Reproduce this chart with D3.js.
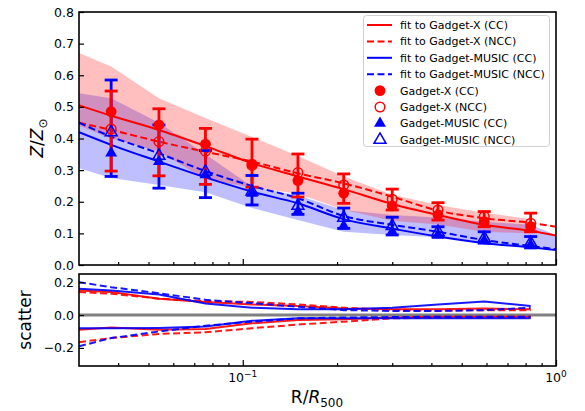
<!DOCTYPE html>
<html><head><meta charset="utf-8">
<script src="https://cdn.jsdelivr.net/npm/d3@7"></script>
<style>body{margin:0;background:#fff} text{font-family:"DejaVu Sans",sans-serif}</style>
</head><body><svg id="c" width="585" height="411"></svg>
<script>
// ---- data ----
const gridX = [0.03, 0.038, 0.054, 0.076, 0.107, 0.15, 0.21, 0.30, 0.42, 0.59, 0.83, 1.0];
const fitXCC   = [0.505, 0.472, 0.427, 0.376, 0.322, 0.280, 0.240, 0.193, 0.158, 0.127, 0.108, 0.093];
const fitXNCC  = [0.450, 0.427, 0.390, 0.358, 0.327, 0.290, 0.258, 0.216, 0.172, 0.148, 0.133, 0.121];
const fitMCC   = [0.420, 0.380, 0.327, 0.277, 0.232, 0.195, 0.145, 0.115, 0.090, 0.069, 0.056, 0.047];
const fitMNCC  = [0.450, 0.406, 0.353, 0.297, 0.250, 0.211, 0.155, 0.127, 0.105, 0.079, 0.060, 0.050];
const bandXHi  = [0.670, 0.628, 0.527, 0.465, 0.405, 0.345, 0.280, 0.222, 0.190, 0.165, 0.145];
const bandXLo  = [0.440, 0.400, 0.360, 0.270, 0.245, 0.225, 0.175, 0.140, 0.128, 0.105, 0.100];
const bandMHi  = [0.543, 0.527, 0.450, 0.350, 0.248, 0.220, 0.174, 0.158, 0.150, 0.137, 0.127, 0.095];
const bandMLo  = [0.306, 0.275, 0.253, 0.230, 0.180, 0.142, 0.105, 0.095, 0.088, 0.070, 0.057, 0.045];

const xPts     = [0.038, 0.054, 0.076, 0.107, 0.15, 0.21, 0.30, 0.42, 0.59, 0.83];
const xCC      = [0.485, 0.443, 0.382, 0.319, 0.267, 0.227, 0.187, 0.158, 0.137, 0.121];
const xCCErrLo = [0.297, 0.282, 0.255, 0.246, 0.215, 0.195, 0.174, 0.142, 0.121, 0.105];
const xCCErrHi = [0.550, 0.494, 0.432, 0.398, 0.351, 0.288, 0.240, 0.197, 0.169, 0.164];
const xNCC     = [0.430, 0.390, 0.360, 0.315, 0.292, 0.253, 0.208, 0.174, 0.153, 0.132];
const mCC      = [0.354, 0.327, 0.285, 0.227, 0.169, 0.123, 0.105, 0.095, 0.077, 0.063];
const mCCErrLo = [0.280, 0.243, 0.213, 0.190, 0.160, 0.116, 0.095, 0.088, 0.069, 0.054];
const mCCErrHi = [0.585, 0.443, 0.362, 0.283, 0.227, 0.180, 0.151, 0.121, 0.105, 0.090];
const mNCC     = [0.420, 0.345, 0.295, 0.232, 0.187, 0.149, 0.123, 0.105, 0.085, 0.070];

const scX = gridX.slice(0, 11);
const scXCCHi  = [0.150, 0.140, 0.100, 0.080, 0.065, 0.055, 0.040, 0.035, 0.035, 0.040, 0.035];
const scXNCCHi = [0.140, 0.130, 0.100, 0.085, 0.080, 0.065, 0.045, 0.030, 0.027, 0.030, 0.030];
const scMCCHi  = [0.160, 0.150, 0.125, 0.070, 0.045, 0.035, 0.035, 0.045, 0.065, 0.083, 0.055];
const scMNCCHi = [0.200, 0.170, 0.133, 0.093, 0.073, 0.050, 0.030, 0.025, 0.025, 0.030, 0.045];
const scXCCLo  = [-0.090, -0.075, -0.090, -0.085, -0.050, -0.030, -0.025, -0.015, -0.010, -0.010, -0.010];
const scXNCCLo = [-0.165, -0.140, -0.115, -0.105, -0.080, -0.058, -0.040, -0.020, -0.015, -0.015, -0.015];
const scMCCLo  = [-0.080, -0.080, -0.078, -0.070, -0.035, -0.020, -0.020, -0.020, -0.020, -0.020, -0.020];
const scMNCCLo = [-0.190, -0.140, -0.100, -0.065, -0.040, -0.020, -0.015, -0.012, -0.010, -0.010, -0.010];

const topTicks = [0.0, 0.1, 0.2, 0.3, 0.4, 0.5, 0.6, 0.7, 0.8];
const botTicks = [-0.2, 0.0, 0.2];
const legendLabels = ["fit to Gadget-X (CC)", "fit to Gadget-X (NCC)", "fit to Gadget-MUSIC (CC)", "fit to Gadget-MUSIC (NCC)",
  "Gadget-X (CC)", "Gadget-X (NCC)", "Gadget-MUSIC (CC)", "Gadget-MUSIC (NCC)"];

// ---- layout ----
const L = 79, R = 556;
const svg = d3.select("#c");
const x = d3.scaleLog().domain([0.03, 1]).range([L, R]);
const yT = d3.scaleLinear().domain([0, 0.8]).range([265, 12]);
const yB = d3.scaleLinear().domain([-0.31, 0.25]).range([366, 274]);
const RED = "#ff0000", BLUE = "#0000ff";

svg.append("clipPath").attr("id", "ct").append("rect").attr("x", L).attr("y", 12).attr("width", R - L).attr("height", 253);
svg.append("clipPath").attr("id", "cb").append("rect").attr("x", L).attr("y", 274).attr("width", R - L).attr("height", 92);
const gT = svg.append("g").attr("clip-path", "url(#ct)");
const gB = svg.append("g").attr("clip-path", "url(#cb)");

const zip = (xs, ys) => ys.map((v, i) => [xs[i], v]);
const zip2 = (xs, lo, hi) => lo.map((v, i) => [xs[i], v, hi[i]]);

// bands
const area = d3.area().x(d => x(d[0])).y0(d => yT(d[1])).y1(d => yT(d[2]));
gT.append("path").attr("d", area(zip2(gridX, bandMLo, bandMHi))).attr("fill", BLUE).attr("fill-opacity", 0.25);
gT.append("path").attr("d", area(zip2(gridX, bandXLo, bandXHi))).attr("fill", RED).attr("fill-opacity", 0.25);

// fit lines
const lineT = d3.line().x(d => x(d[0])).y(d => yT(d[1])).curve(d3.curveMonotoneX);
const fits = [[fitXCC, RED, null], [fitXNCC, RED, "7,3.5"], [fitMCC, BLUE, null], [fitMNCC, BLUE, "7,3.5"]];
fits.forEach(([v, c, dash]) => {
  gT.append("path").attr("d", lineT(zip(gridX, v))).attr("fill", "none").attr("stroke", c)
    .attr("stroke-width", 2).attr("stroke-dasharray", dash);
});

// error bars
const errs = [[mCCErrLo, mCCErrHi, BLUE], [xCCErrLo, xCCErrHi, RED]];
errs.forEach(([lo, hi, c]) => {
  gT.selectAll(null).data(xPts.map((px, i) => [px, lo[i], hi[i]])).join("line")
    .attr("x1", d => x(d[0])).attr("x2", d => x(d[0])).attr("y1", d => yT(d[1])).attr("y2", d => yT(d[2]))
    .attr("stroke", c).attr("stroke-width", 2.8);
});
errs.forEach(([lo, hi, c]) => {
  const caps = [];
  xPts.forEach((px, i) => { caps.push([px, lo[i]]); caps.push([px, hi[i]]); });
  gT.selectAll(null).data(caps).join("line")
    .attr("x1", d => x(d[0]) - 6.5).attr("x2", d => x(d[0]) + 6.5).attr("y1", d => yT(d[1])).attr("y2", d => yT(d[1]))
    .attr("stroke", c).attr("stroke-width", 2.8);
});

// markers
const tri = d3.symbol().type(d3.symbolTriangle).size(62);
gT.selectAll(null).data(zip(xPts, xCC)).join("circle")
  .attr("cx", d => x(d[0])).attr("cy", d => yT(d[1])).attr("r", 5.4).attr("fill", RED);
gT.selectAll(null).data(zip(xPts, xNCC)).join("circle")
  .attr("cx", d => x(d[0])).attr("cy", d => yT(d[1])).attr("r", 4.8).attr("fill", "none").attr("stroke", RED).attr("stroke-width", 1.5);
gT.selectAll(null).data(zip(xPts, mCC)).join("path").attr("d", tri)
  .attr("transform", d => `translate(${x(d[0])},${yT(d[1])})`).attr("fill", BLUE);
gT.selectAll(null).data(zip(xPts, mNCC)).join("path").attr("d", tri)
  .attr("transform", d => `translate(${x(d[0])},${yT(d[1])})`).attr("fill", "none").attr("stroke", BLUE).attr("stroke-width", 1.5);

// bottom panel
gB.append("line").attr("x1", L).attr("x2", R).attr("y1", yB(0)).attr("y2", yB(0)).attr("stroke", "#808080").attr("stroke-width", 3);
const lineB = d3.line().x(d => x(d[0])).y(d => yB(d[1]));
const scs = [[scXCCHi, RED, null], [scXCCLo, RED, null], [scXNCCHi, RED, "7,3.5"], [scXNCCLo, RED, "7,3.5"],
             [scMCCHi, BLUE, null], [scMCCLo, BLUE, null], [scMNCCHi, BLUE, "7,3.5"], [scMNCCLo, BLUE, "7,3.5"]];
scs.forEach(([v, c, dash]) => {
  gB.append("path").attr("d", lineB(zip(scX, v))).attr("fill", "none").attr("stroke", c)
    .attr("stroke-width", 2).attr("stroke-opacity", 0.9).attr("stroke-dasharray", dash);
});

// axes
const fmt = d3.format(".1f");
const axT = svg.append("g").attr("transform", `translate(${L},0)`)
  .call(d3.axisLeft(yT).tickValues(topTicks).tickFormat(fmt).tickSize(-5).tickPadding(5));
const axB = svg.append("g").attr("transform", `translate(${L},0)`)
  .call(d3.axisLeft(yB).tickValues(botTicks).tickFormat(d => fmt(d).replace("-", "\u2212")).tickSize(-5).tickPadding(5));
const minor = [0.04,0.05,0.06,0.07,0.08,0.09,0.2,0.3,0.4,0.5,0.6,0.7,0.8,0.9];
const major = [0.1, 1];
[265, 366].forEach(yy => {
  const gm = svg.append("g").attr("transform", `translate(0,${yy})`)
    .call(d3.axisBottom(x).tickValues(minor).tickSize(-3).tickFormat(""));
  const gM = svg.append("g").attr("transform", `translate(0,${yy})`)
    .call(d3.axisBottom(x).tickValues(major).tickSize(-6).tickFormat(""));
  [gm, gM].forEach(g => { g.select(".domain").remove(); g.selectAll("line").attr("stroke-width", 1.2); });
});
[axT, axB].forEach(g => {
  g.select(".domain").remove();
  g.selectAll("line").attr("stroke-width", 1.2);
  g.selectAll("text").attr("font-size", 12.5).attr("fill", "#000").style("font-family", "DejaVu Sans");
});
// x tick labels
const xl = svg.append("g");
[[0.1, "\u22121"], [1, "0"]].forEach(([v, e]) => {
  const t = xl.append("text").attr("x", x(v)).attr("y", 382).attr("text-anchor", "middle").attr("font-size", 12.5);
  t.append("tspan").text("10");
  t.append("tspan").attr("dy", -5).attr("font-size", 9).text(e);
});
// frames
svg.append("rect").attr("x", L).attr("y", 12).attr("width", R - L).attr("height", 253).attr("fill", "none").attr("stroke", "#000").attr("stroke-width", 1.6);
svg.append("rect").attr("x", L).attr("y", 274).attr("width", R - L).attr("height", 92).attr("fill", "none").attr("stroke", "#000").attr("stroke-width", 1.6);

// axis labels
const yl = svg.append("text").attr("transform", "translate(43,138) rotate(-90)").attr("text-anchor", "middle").attr("font-size", 17);
yl.append("tspan").attr("font-style", "italic").text("Z");
yl.append("tspan").text("/");
yl.append("tspan").attr("font-style", "italic").text("Z");
yl.append("tspan").attr("dy", 4).attr("font-size", 12).text("\u2299");
svg.append("text").attr("transform", "translate(31,320) rotate(-90)").attr("text-anchor", "middle").attr("font-size", 17).text("scatter");
const xlab = svg.append("text").attr("x", 317).attr("y", 403).attr("text-anchor", "middle").attr("font-size", 17);
xlab.append("tspan").text("R/");
xlab.append("tspan").attr("font-style", "italic").text("R");
xlab.append("tspan").attr("dy", 4).attr("font-size", 12).text("500");

// legend
const lg = svg.append("g");
lg.append("rect").attr("x", 363.5).attr("y", 15.5).attr("width", 186).attr("height", 131).attr("rx", 3)
  .attr("fill", "#fff").attr("fill-opacity", 0.8).attr("stroke", "#d0d0d0").attr("stroke-width", 1);
const rowY = i => 25 + i * 16.4;
legendLabels.forEach((lab, i) => {
  const yy = rowY(i);
  lg.append("text").attr("x", 400).attr("y", yy + 4).attr("font-size", 11).text(lab);
});
fits.forEach(([v, c, dash], i) => {
  lg.append("line").attr("x1", 367).attr("x2", 392).attr("y1", rowY(i)).attr("y2", rowY(i))
    .attr("stroke", c).attr("stroke-width", 2).attr("stroke-dasharray", dash);
});
lg.append("circle").attr("cx", 380).attr("cy", rowY(4)).attr("r", 5.4).attr("fill", RED);
lg.append("circle").attr("cx", 380).attr("cy", rowY(5)).attr("r", 4.8).attr("fill", "none").attr("stroke", RED).attr("stroke-width", 1.5);
lg.append("path").attr("d", tri).attr("transform", `translate(380,${rowY(6)})`).attr("fill", BLUE);
lg.append("path").attr("d", tri).attr("transform", `translate(380,${rowY(7)})`).attr("fill", "none").attr("stroke", BLUE).attr("stroke-width", 1.5);
</script></body></html>
